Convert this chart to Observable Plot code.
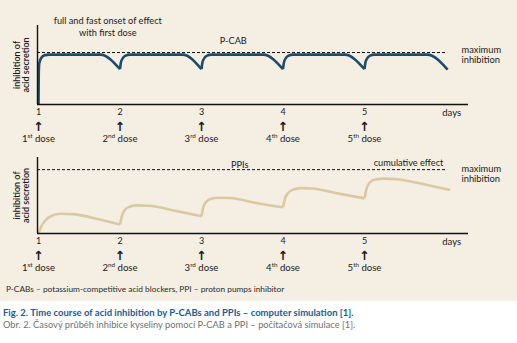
<!DOCTYPE html>
<html>
<head>
<meta charset="utf-8">
<script src="https://cdn.jsdelivr.net/npm/d3@7"></script>
<script src="https://cdn.jsdelivr.net/npm/@observablehq/plot@0.6"></script>
<style>
  body { margin: 0; background: #ffffff; font-family: Lato, "Noto Sans", sans-serif; }
  #panel { position: relative; width: 517px; height: 301px; background: #f5eee3; }
  #top { position: absolute; left: 0; top: 0; }
  #bottom { position: absolute; left: 0; top: 145px; }
  #foot { position: absolute; left: 6px; top: 284px; font-size: 8.3px; color: #2a2a2a; white-space: nowrap; }
  #cap { padding: 6px 0 0 3px; line-height: 12px; white-space: nowrap; }
  #cap .t { color: #1d5a92; font-weight: bold; font-size: 9.5px; }
  #cap .s { color: #707070; font-size: 9.3px; }
</style>
</head>
<body>
<div id="panel">
  <div id="top"></div>
  <div id="bottom"></div>
  <div id="foot"></div>
</div>
<div id="cap"><div class="t"></div><div class="s"></div></div>
<script>
// ---- data ----
const days = [1, 2, 3, 4, 5];
const ordinals = ["st", "nd", "rd", "th", "th"];
const maxLevel = 100;          // maximum inhibition (dashed line)
const lastDay = 6.02;          // end of simulated period

// P-CAB simulated curve: [day, inhibition, dose interval]
const pcabCurve = [
  [1.000, 0, 1], [1.003, 60, 1], [1.010, 80, 1], [1.040, 91, 1], [1.080, 95, 1], [1.130, 96, 1], [1.760, 96, 1], [2.000, 68, 1],
  [2.000, 68, 2], [2.010, 80, 2], [2.030, 88, 2], [2.070, 94, 2], [2.120, 96, 2], [2.770, 96, 2], [3.000, 68, 2],
  [3.000, 68, 3], [3.010, 80, 3], [3.030, 88, 3], [3.070, 94, 3], [3.120, 96, 3], [3.760, 96, 3], [4.000, 68, 3],
  [4.000, 68, 4], [4.010, 80, 4], [4.030, 88, 4], [4.070, 94, 4], [4.120, 96, 4], [4.760, 96, 4], [5.000, 68, 4],
  [5.000, 68, 5], [5.010, 80, 5], [5.030, 88, 5], [5.070, 94, 5], [5.120, 96, 5], [5.770, 96, 5], [6.020, 67, 5]
];

// PPI simulated curve: [day, inhibition, dose interval]
const ppiCurve = [
  [1.00, 0, 1], [1.03, 10, 1], [1.08, 20, 1], [1.15, 27, 1], [1.27, 31, 1], [1.45, 30, 1], [1.75, 22, 1], [2.00, 14, 1],
  [2.00, 14, 2], [2.02, 26, 2], [2.06, 37, 2], [2.12, 42, 2], [2.20, 44, 2], [2.35, 43.5, 2], [2.70, 35, 2], [3.00, 27, 2],
  [3.00, 27, 3], [3.02, 40, 3], [3.06, 50, 3], [3.12, 54.5, 3], [3.20, 56, 3], [3.35, 55.5, 3], [3.70, 47, 3], [4.00, 41, 3],
  [4.00, 41, 4], [4.02, 53, 4], [4.06, 63, 4], [4.12, 68.5, 4], [4.22, 71, 4], [4.35, 70.5, 4], [4.70, 62, 4], [5.00, 55, 4],
  [5.00, 55, 5], [5.02, 68, 5], [5.06, 79, 5], [5.13, 84.5, 5], [5.25, 86, 5], [5.40, 85, 5], [5.80, 75, 5], [6.05, 68, 5]
];

const yLabel = "inhibition of\nacid secretion";
const maxLabel = "maximum\ninhibition";
const daysLabel = "days";
const topNotes = [
  {day: 1.85, level: 150, text: "full and fast onset of effect\nwith first dose"},
  {day: 3.39, level: 123, text: "P-CAB"}
];
const bottomNotes = [
  {day: 3.47, level: 109, text: "PPIs"},
  {day: 5.54, level: 111, text: "cumulative effect"}
];
const footnote = "P-CABs – potassium-competitive acid blockers, PPI – proton pumps inhibitor";
const title = "Fig. 2. Time course of acid inhibition by P-CABs and PPIs – computer simulation [1].";
const subtitle = "Obr. 2. Časový průběh inhibice kyseliny pomocí P-CAB a PPI – počítačová simulace [1].";

// ---- drawing ----
const xDomain = [0.9877, 6.276];
const doses = days.map((d, i) => ({day: d, label: `${d}${ordinals[i]} dose`}));

function panel({curve, color, yMax, height, marginTop, marginBottom, notes, maxDy}) {
  const rows = curve.map(([day, value, seg]) => ({day, value, seg}));
  return Plot.plot({
    width: 517, height, marginLeft: 37, marginRight: 49, marginTop, marginBottom,
    x: {domain: xDomain, axis: null},
    y: {domain: [0, yMax], axis: null},
    style: {background: "transparent", fontFamily: "Lato, sans-serif", fontSize: "9px", color: "#1a1a1a", overflow: "visible"},
    marks: [
      Plot.ruleY([maxLevel], {x1: xDomain[0], x2: lastDay, stroke: "#111", strokeWidth: 1, strokeDasharray: "3,2"}),
      Plot.line(rows, {x: "day", y: "value", z: "seg", stroke: color, strokeWidth: 2.6, curve: "monotone-x", strokeLinejoin: "miter", strokeLinecap: "butt"}),
      Plot.ruleX([xDomain[0]], {stroke: "#111", strokeWidth: 1.4}),
      Plot.ruleY([0], {stroke: "#111", strokeWidth: 1.4}),
      Plot.axisX({ticks: days, tickSize: 0, tickPadding: 4, tickFormat: d => String(d), fontSize: 9, anchor: "bottom", label: null}),
      Plot.text([daysLabel], {x: 6.07, frameAnchor: "bottom", lineAnchor: "middle", dy: 8.5, fontSize: 9.5, text: d => d}),
      Plot.text(days, {x: d => d, frameAnchor: "bottom", lineAnchor: "middle", dy: 22, text: () => "↑", fontSize: 12.5, fontFamily: "DejaVu Sans", fontWeight: "bold"}),
      Plot.text(doses, {x: "day", frameAnchor: "bottom", lineAnchor: "middle", dy: 34, text: "label", fontSize: 9.6}),
      Plot.text([yLabel], {frameAnchor: "left", textAnchor: "middle", lineAnchor: "middle", dx: -16, rotate: -90, text: d => d, fontSize: 9, fontWeight: 600, lineHeight: 0.95}),
      Plot.text([maxLabel], {x: 6.19, y: maxLevel, dy: maxDy, text: d => d, textAnchor: "start", fontSize: 9.3, lineHeight: 1.15}),
      Plot.text(notes, {x: "day", y: "level", text: "text", fontSize: 9.2, lineHeight: 1.25})
    ]
  });
}

function superscripts(svg) {
  d3.select(svg).selectAll("text").each(function () {
    const m = /^(\d)(st|nd|rd|th) dose$/.exec(this.textContent);
    if (!m) return;
    const t = d3.select(this);
    t.text(null);
    t.append("tspan").text(m[1]);
    t.append("tspan").attr("dy", "-3.5").attr("font-size", "6.3").text(m[2]);
    t.append("tspan").attr("dy", "3.5").text(" dose");
  });
}

const topSvg = panel({curve: pcabCurve, color: "#1d4c6a", yMax: 152, height: 148, marginTop: 25, marginBottom: 44, notes: topNotes, maxDy: 2});
superscripts(topSvg);
document.getElementById("top").appendChild(topSvg);

const botSvg = panel({curve: ppiCurve, color: "#dac9a1", yMax: 119, height: 128, marginTop: 12, marginBottom: 40, notes: bottomNotes, maxDy: 4});
superscripts(botSvg);
document.getElementById("bottom").appendChild(botSvg);

document.getElementById("foot").textContent = footnote;
document.querySelector("#cap .t").textContent = title;
document.querySelector("#cap .s").textContent = subtitle;
</script>
</body>
</html>
